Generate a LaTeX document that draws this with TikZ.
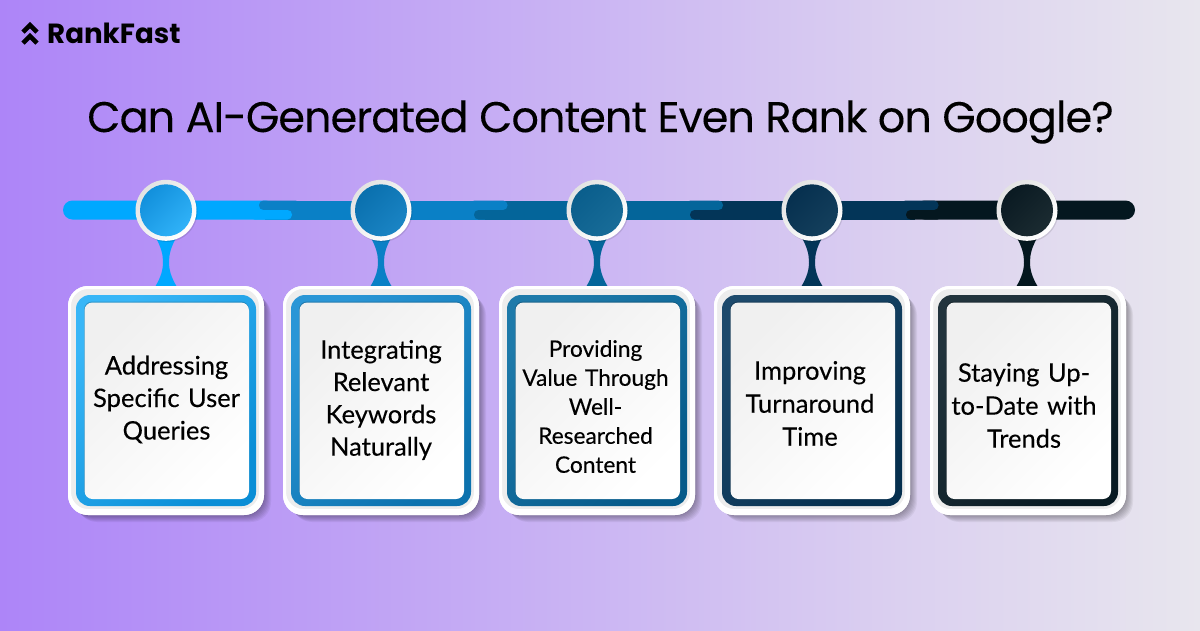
\documentclass[tikz,border=0pt]{standalone}
\usepackage{fontspec}
\setmainfont{Lato}
\newfontfamily\cardfont{Lato}[FakeBold=0.25,WordSpace=0.8]
\newfontfamily\titlefont{Poppins}[LetterSpace=-2.3,FakeBold=0.12]
\newfontfamily\logofont{Poppins}[UprightFont=* Bold]
\usetikzlibrary{calc}
\definecolor{bgA}{HTML}{AD85F8}\definecolor{bgB}{HTML}{BC9DF5}\definecolor{bgC}{HTML}{CBB6F3}\definecolor{bgD}{HTML}{DBD0F0}\definecolor{bgE}{HTML}{E8E6EE}
\pgfdeclarehorizontalshading{bgshade}{100bp}{color(0bp)=(bgA); color(25bp)=(bgA); color(37.5bp)=(bgB); color(50bp)=(bgC); color(62.5bp)=(bgD); color(75bp)=(bgE); color(100bp)=(bgE)}
\definecolor{s1}{HTML}{00A8FF}\definecolor{s2}{HTML}{0A80C6}\definecolor{s3}{HTML}{04659A}\definecolor{s4}{HTML}{033558}\definecolor{s5}{HTML}{04171F}
\definecolor{f1a}{HTML}{38B6F7}\definecolor{f1b}{HTML}{0A8ED6}
\definecolor{f2a}{HTML}{2A96D6}\definecolor{f2b}{HTML}{0C72AE}
\definecolor{f3a}{HTML}{1E7AAA}\definecolor{f3b}{HTML}{055A8A}
\definecolor{f4a}{HTML}{1D4A6C}\definecolor{f4b}{HTML}{06304F}
\definecolor{f5a}{HTML}{22343D}\definecolor{f5b}{HTML}{081A22}
\definecolor{c1a}{HTML}{1290DC}\definecolor{c1b}{HTML}{30B2F8}
\definecolor{c2a}{HTML}{0A70AE}\definecolor{c2b}{HTML}{1A84C4}
\definecolor{c3a}{HTML}{0A5E8C}\definecolor{c3b}{HTML}{186C98}
\definecolor{c4a}{HTML}{06304F}\definecolor{c4b}{HTML}{143F5C}
\definecolor{c5a}{HTML}{0A1A22}\definecolor{c5b}{HTML}{1B2B31}
\tikzset{x=1pt,y=-1pt,
 cardtext/.style={align=center,text=black,inner sep=0pt,text width=172pt},
 bulb/.style={circle,minimum size=61pt,inner sep=0pt},
 cardbox/.style={rectangle,minimum width=196pt,minimum height=229pt,inner sep=0pt,rounded corners=20pt,fill=white},
 tongue/.style={rounded corners=4.5pt}}
\begin{document}
\begin{tikzpicture}
\useasboundingbox (0,0) rectangle (1200,630);
\shade[shading=bgshade] (0,0) rectangle (1200,630);
% logo
\node[anchor=west,inner sep=0pt,font=\logofont\fontsize{27.7}{28}\selectfont,text=black] (logo) at (47,33) {RankFast};
\draw[line width=4.6pt,black,miter limit=2] (23,32) -- (30,25) -- (37,32);
\draw[line width=4.6pt,black,miter limit=2] (23,43) -- (30,36) -- (37,43);
% title
\node[inner sep=0pt,font=\titlefont\fontsize{43}{50}\selectfont,text=black] (title) at (600.5,122) {Can AI-Generated Content Even Rank on Google?};
% timeline bar
\fill[s1,rounded corners=9.5pt] (63,200.5) rectangle (275,219.5);
\fill[s2] (265,200.5) rectangle (485,219.5);
\fill[s3] (485,200.5) rectangle (700,219.5);
\fill[s4] (700,200.5) rectangle (915,219.5);
\fill[s5,rounded corners=9.5pt] (915,200.5) rectangle (1135,219.5);
\fill[s2,tongue] (259,200.5) rectangle (300,210);
\fill[s1,tongue] (250,210) rectangle (292,219.5);
\fill[s2,tongue] (470,200.5) rectangle (507.5,210);
\fill[s3,tongue] (474,210) rectangle (510,219.5);
\fill[s3,tongue] (686,200.5) rectangle (723,210);
\fill[s4,tongue] (690,210) rectangle (726,219.5);
\fill[s4,tongue] (901,200.5) rectangle (938.5,210);
\fill[s5,tongue] (906,210) rectangle (942,219.5);
% steps
\foreach \i/\bx/\cx/\tx/\fs/\ls/\ty/\txt in {
 1/166/166/166.5/25.5/32.5/399.5/{Addressing\\Specific User\\Queries},
 2/381/381/381/25.5/32.3/400/{Integrating\\Relevant\\Keywords\\Naturally},
 3/597/597/595.5/22.7/29/406.5/{Providing\\Value Through\\Well-\\Researched\\Content},
 4/812/812/810/25.5/33/403.5/{Improving\\Turnaround\\Time},
 5/1027/1028/1024/25.5/33/405.5/{Staying Up-\\to-Date with\\Trends}}{
 % shadow
 \foreach \k in {0,1,...,7}{
  \fill[black,opacity=.05,rounded corners=20pt] (\cx-96+\k,288+\k) rectangle (\cx+98+\k,515+\k);
 }
 % neck
 \coordinate (n\i) at (\bx,262);
 \fill[s\i] (\bx-11,236) .. controls (\bx-5,247) and (\bx-3,254) .. (\bx-3,262)
   .. controls (\bx-3,270) and (\bx-5,277) .. (\bx-11,287) -- (\bx+11,287)
   .. controls (\bx+5,277) and (\bx+3,270) .. (\bx+3,262)
   .. controls (\bx+3,254) and (\bx+5,247) .. (\bx+11,236) -- cycle;
 % bubble
 \fill[black,opacity=.10] (\bx+1,211.5) circle (30.5);
 \node[bulb,top color=gray!22,bottom color=white,shading angle=45] (b\i) at (\bx,210.3) {};
 \shade[top color=c\i a,bottom color=c\i b,shading angle=45] (b\i.center) circle (26);
 % card
 \node[cardbox] (card\i) at (\cx,400.5) {};
 \shade[rounded corners=18pt,top color=white!93!black,bottom color=white!93!black] (\cx-96.5,287.5) rectangle (\cx+96.5,513.5);
 \fill[white,rounded corners=20pt,even odd rule] (\cx-98,286) rectangle (\cx+98,515) [rounded corners=17pt] (\cx-95,289) rectangle (\cx+93,509);
 \shade[rounded corners=14pt,top color=f\i a,bottom color=f\i b,shading angle=45] (\cx-90,295) rectangle (\cx+90,506);
 \fill[black,opacity=.18,rounded corners=8pt] (\cx-82,301.5) rectangle (\cx+83,498);
 \shade[rounded corners=8pt,top color=white!94!black,bottom color=white,shading angle=45] (\cx-81.5,302.5) rectangle (\cx+83,499);
 \node[cardtext,font=\cardfont\fontsize{\fs}{\ls}\selectfont] (t\i) at (\tx,\ty) {\txt};
}
\end{tikzpicture}
\end{document}
